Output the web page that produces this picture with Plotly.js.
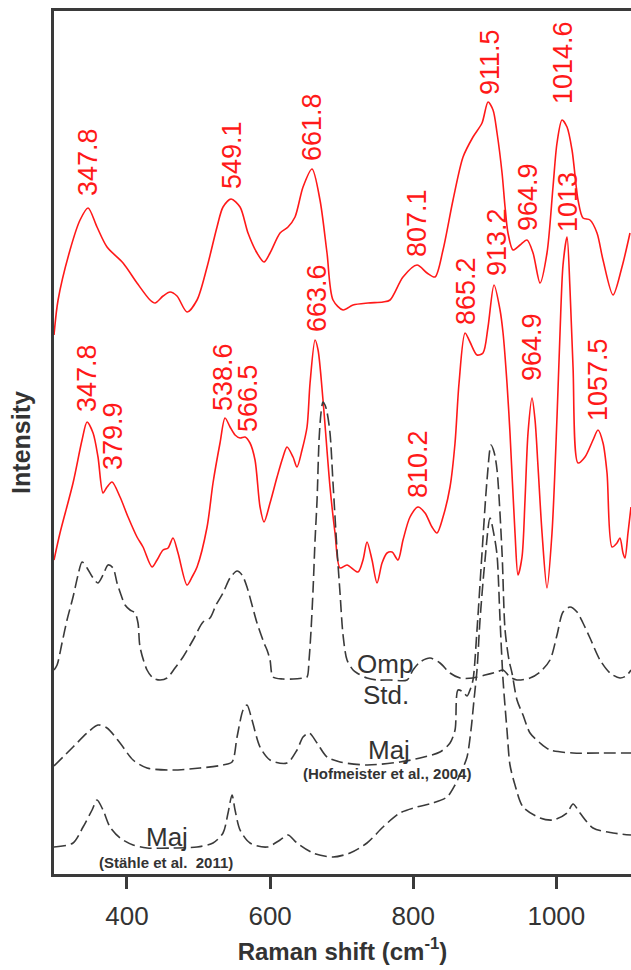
<!DOCTYPE html>
<html>
<head>
<meta charset="utf-8">
<script src="https://cdn.plot.ly/plotly-3.0.1.min.js"></script>
<style>
  html, body { margin: 0; padding: 0; background: #ffffff; }
  #chart { width: 631px; height: 970px; }
</style>
</head>
<body>
<div id="chart"></div>
<script>
// ---- Data (Raman shift in cm-1, intensity in arbitrary units) ----
const shiftSampleTop = [298, 303.7, 320.4, 334.4, 345.6, 358.1, 372.1, 394.5, 414.0, 432.2, 439.2, 450.4, 460.2, 469.9, 483.9, 497.9, 511.9, 525.8, 534.2, 545.4, 558.0, 569.1, 581.7, 591.5, 599.9, 613.9, 625.0, 634.8, 646.0, 658.6, 669.7, 679.5, 687.9, 701.9, 715.9, 736.8, 757.8, 767.6, 785.7, 805.3, 819.3, 830.4, 841.6, 855.6, 869.6, 883.5, 896.1, 904.5, 911.5, 917.1, 924.1, 928.3, 932.4, 939.4, 949.2, 959.0, 967.4, 977.2, 986.9, 995.3, 1000.9, 1007.9, 1014.9, 1021.9, 1030.3, 1037.2, 1047.0, 1056.8, 1065.2, 1079.2, 1091.7, 1102.9];
const intensitySampleTop = [53.9, 57.4, 62.4, 65.4, 66.6, 64.7, 62.7, 61.1, 59.1, 57.4, 57.1, 57.8, 58.2, 57.8, 56.2, 57.4, 60.7, 64.7, 66.7, 67.5, 66.7, 64.1, 62.1, 61.2, 62.1, 64.1, 64.7, 65.7, 68.7, 70.5, 67.4, 62.1, 57.4, 56.4, 56.9, 57.1, 57.2, 57.4, 59.7, 60.9, 60.1, 59.7, 62.4, 67.4, 71.7, 73.7, 75.1, 77.2, 76.4, 74.1, 70.1, 66.7, 64.1, 62.4, 62.9, 63.4, 62.1, 59.1, 62.1, 68.7, 73.1, 75.4, 74.7, 72.4, 67.4, 65.6, 65.4, 64.1, 61.4, 57.9, 60.7, 64.1];

const shiftSampleMid = [298, 306.4, 324.6, 337.2, 344.2, 352.6, 359.5, 366.5, 372.1, 379.1, 390.3, 401.5, 414.0, 422.4, 435.0, 442.0, 450.4, 457.4, 464.3, 471.3, 483.9, 490.9, 497.9, 511.9, 520.2, 530.0, 537.0, 544.0, 551.0, 558.0, 564.9, 571.9, 578.9, 585.9, 591.5, 599.9, 609.7, 618.0, 623.6, 632.0, 637.6, 644.6, 651.6, 655.8, 662.8, 667.0, 673.9, 683.7, 690.7, 697.7, 707.5, 722.8, 729.8, 735.4, 742.4, 749.4, 756.4, 763.4, 770.4, 778.7, 785.7, 795.5, 806.7, 816.5, 826.2, 833.2, 841.6, 851.4, 858.4, 864.0, 872.4, 879.3, 889.1, 897.5, 904.5, 912.9, 921.3, 925.5, 931.0, 935.2, 942.2, 946.4, 952.0, 956.2, 960.4, 966.0, 970.2, 974.4, 980.0, 986.9, 993.9, 1000.9, 1005.1, 1009.3, 1014.9, 1019.1, 1023.3, 1030.3, 1040.0, 1051.2, 1058.2, 1065.2, 1070.8, 1077.8, 1084.7, 1088.9, 1093.1, 1095.9, 1100.1, 1104.3];
const intensitySampleMid = [31.4, 34.1, 39.1, 43.4, 45.2, 44.1, 41.7, 38.1, 38.7, 39.2, 37.7, 35.7, 33.7, 32.7, 30.7, 31.4, 32.4, 32.6, 33.6, 32.1, 28.9, 29.7, 30.7, 34.7, 39.1, 43.1, 45.6, 44.7, 43.9, 43.6, 43.7, 43.1, 41.4, 36.7, 35.2, 37.1, 39.7, 41.7, 42.7, 41.7, 40.7, 42.4, 44.7, 49.1, 53.4, 52.4, 47.4, 38.7, 34.1, 30.6, 30.9, 30.2, 31.4, 33.2, 31.4, 29.1, 31.1, 32.1, 32.2, 31.4, 33.4, 35.7, 36.7, 36.1, 34.7, 34.1, 35.7, 38.7, 43.1, 49.1, 54.1, 53.2, 51.9, 52.1, 54.7, 58.9, 56.4, 54.1, 49.1, 44.1, 34.1, 29.9, 31.7, 37.4, 44.1, 47.6, 45.4, 40.7, 34.1, 28.6, 34.1, 45.7, 54.1, 60.9, 63.7, 58.4, 50.7, 41.1, 41.7, 43.4, 44.4, 43.1, 40.1, 32.7, 33.1, 33.6, 32.1, 31.6, 34.1, 36.7];

const shiftOmpStd = [298, 302.3, 309.2, 316.2, 324.6, 331.6, 337.2, 344.2, 352.6, 359.5, 366.5, 373.5, 380.5, 386.1, 391.7, 397.3, 404.3, 411.2, 415.4, 418.2, 428.0, 436.4, 446.2, 456.0, 467.1, 478.3, 492.3, 506.3, 516.0, 524.4, 534.2, 544.0, 553.8, 560.8, 567.7, 574.7, 581.7, 591.5, 595.7, 599.9, 604.1, 618.0, 632.0, 646.0, 651.6, 654.4, 657.2, 660.0, 662.8, 665.6, 668.4, 671.1, 673.9, 676.7, 679.5, 683.7, 687.9, 693.5, 697.7, 701.9, 707.5, 715.9, 721.4, 735.4, 749.4, 767.6, 791.3, 799.7, 809.5, 823.5, 837.4, 851.4, 865.4, 883.5, 900.3, 917.1, 925.5, 935.2, 945.0, 963.2, 977.2, 991.1, 1000.9, 1009.3, 1019.1, 1028.9, 1037.2, 1047.0, 1061.0, 1075.0, 1088.9, 1097.3, 1104.3];
const intensityOmpStd = [20.4, 20.9, 23.1, 25.4, 27.7, 29.9, 31.2, 30.6, 29.6, 29.1, 29.9, 30.9, 30.6, 29.1, 27.9, 26.9, 26.4, 26.1, 25.1, 22.7, 20.4, 19.6, 19.4, 19.6, 20.6, 21.7, 23.4, 25.2, 25.6, 26.9, 28.1, 29.6, 30.3, 29.9, 28.7, 26.9, 25.1, 23.1, 22.4, 21.4, 19.7, 19.5, 19.5, 19.6, 19.7, 21.4, 24.4, 28.4, 33.4, 37.4, 43.4, 46.1, 47.2, 46.9, 46.2, 44.1, 39.1, 32.4, 28.1, 23.9, 21.4, 20.4, 20.1, 19.6, 19.4, 19.4, 19.4, 20.4, 21.2, 21.6, 21.1, 20.1, 19.6, 19.6, 19.9, 20.2, 20.4, 19.7, 19.4, 19.6, 20.2, 21.4, 23.9, 26.2, 26.7, 26.2, 25.1, 23.6, 21.4, 20.1, 19.6, 19.8, 20.4];

const shiftMajHofmeister = [298, 324.6, 344.2, 359.5, 372.1, 390.3, 408.5, 428.0, 464.3, 502.1, 534.2, 546.8, 553.8, 562.2, 567.7, 574.7, 585.9, 599.9, 623.6, 637.6, 646.0, 654.4, 665.6, 679.5, 697.7, 735.4, 781.5, 809.5, 837.4, 851.4, 858.4, 862.6, 869.6, 875.2, 879.3, 883.5, 889.1, 896.1, 903.1, 908.7, 912.9, 917.1, 924.1, 928.3, 933.8, 938.0, 945.0, 953.4, 963.2, 977.2, 991.1, 1023.3, 1061.0, 1104.3];
const intensityMajHofmeister = [10.8, 12.7, 14.1, 14.9, 14.6, 13.1, 11.4, 10.6, 10.4, 10.6, 10.9, 11.2, 13.7, 16.4, 16.9, 15.4, 12.7, 11.4, 11.1, 12.4, 13.7, 14.1, 13.1, 11.7, 11.2, 10.9, 11.2, 11.6, 12.2, 13.1, 14.4, 18.4, 18.2, 17.8, 18.4, 19.4, 24.4, 32.1, 39.4, 42.9, 42.2, 40.4, 32.1, 24.4, 21.4, 20.1, 17.4, 15.9, 14.1, 13.1, 12.4, 12.1, 12.1, 12.1];

const shiftMajStahle = [298, 324.6, 338.6, 351.2, 358.1, 366.5, 376.3, 390.3, 408.5, 428.0, 464.3, 497.9, 520.2, 534.2, 541.2, 546.8, 551.0, 558.0, 571.9, 595.7, 613.9, 625.0, 637.6, 660.0, 687.9, 711.7, 735.4, 757.8, 781.5, 805.3, 827.6, 847.2, 858.4, 868.2, 875.2, 880.7, 884.9, 889.1, 893.3, 900.3, 907.3, 912.9, 917.1, 921.3, 925.5, 931.0, 935.2, 942.2, 953.4, 977.2, 995.3, 1014.9, 1023.3, 1033.0, 1051.2, 1079.2, 1104.3];
const intensityMajStahle = [2.7, 3.1, 4.7, 6.4, 7.4, 6.4, 4.7, 3.6, 2.9, 2.6, 2.6, 2.7, 3.1, 4.1, 6.1, 7.9, 6.4, 4.4, 3.1, 2.7, 3.4, 3.9, 3.1, 2.1, 1.7, 2.1, 3.1, 4.7, 6.1, 6.7, 7.1, 7.7, 8.9, 10.4, 11.7, 14.4, 17.4, 20.4, 25.4, 31.4, 35.6, 33.9, 31.9, 25.4, 19.4, 14.4, 10.9, 8.9, 6.7, 5.6, 5.4, 6.1, 7.0, 6.1, 4.6, 4.1, 3.9];

// Peak labels (text, and the shift / intensity where each label sits)
const peakLabelText = ["347.8", "549.1", "661.8", "807.1", "911.5", "964.9", "1014.6", "1013",
                       "347.8", "379.9", "538.6", "566.5", "663.6", "810.2", "865.2", "913.2", "964.9", "1057.5"];
const peakLabelShift = [345.6, 546.8, 658.6, 805.3, 907.3, 960.4, 1009.3, 1016.3,
                        344.2, 380.5, 534.2, 569.1, 665.6, 806.7, 873.8, 917.1, 966.0, 1058.2];
const peakLabelIntensity = [71.2, 71.9, 74.7, 65.1, 81.2, 67.7, 81.1, 67.2,
                            49.6, 43.8, 49.7, 47.6, 57.6, 41.0, 58.3, 63.2, 52.7, 49.4];

// Reference-spectrum captions
const refLabelText = ["Omp", "Std.", "Maj", "<b>(Hofmeister et al., 2004)</b>", "Maj", "<b>(Stähle et al.\u00a0 2011)</b>"];
const refLabelShift = [760.6, 761.9, 766.2, 763.4, 456.0, 454.6];
const refLabelIntensity = [21.0, 17.9, 12.4, 10.1, 3.7, 1.2];
const refLabelSize = [26, 26, 26, 15, 26, 15];

const xTickVals = [400, 600, 800, 1000];

// ---- Build the figure ----
const FONT = "'Liberation Sans', Arial, Helvetica, sans-serif";
const RED = "rgb(255,25,25)";
const GREY = "#3a3a3a";

const redLine = { color: RED, width: 1.6, shape: "spline", smoothing: 0.8 };
const dashLine = { color: GREY, width: 1.6, dash: "12px,5px", shape: "spline", smoothing: 0.8 };

const traces = [
  { x: shiftSampleTop, y: intensitySampleTop, mode: "lines", line: redLine, name: "sample (upper)" },
  { x: shiftSampleMid, y: intensitySampleMid, mode: "lines", line: redLine, name: "sample (lower)" },
  { x: shiftOmpStd, y: intensityOmpStd, mode: "lines", line: dashLine, name: "Omp Std." },
  { x: shiftMajHofmeister, y: intensityMajHofmeister, mode: "lines", line: dashLine, name: "Maj (Hofmeister et al., 2004)" },
  { x: shiftMajStahle, y: intensityMajStahle, mode: "lines", line: dashLine, name: "Maj (Stähle et al. 2011)" }
];

const annotations = [];
peakLabelText.forEach((t, i) => {
  annotations.push({
    x: peakLabelShift[i], y: peakLabelIntensity[i], xref: "x", yref: "y",
    text: t, showarrow: false, textangle: -90,
    xanchor: "center", yanchor: "middle",
    font: { family: FONT, size: 27, color: RED }
  });
});
refLabelText.forEach((t, i) => {
  annotations.push({
    x: refLabelShift[i], y: refLabelIntensity[i], xref: "x", yref: "y",
    text: t, showarrow: false,
    xanchor: "center", yanchor: "middle",
    font: { family: FONT, size: refLabelSize[i], color: "#333333" }
  });
});

const layout = {
  width: 631, height: 970,
  margin: { l: 54, r: 0, t: 11, b: 96, pad: 0 },
  paper_bgcolor: "#ffffff", plot_bgcolor: "#ffffff",
  showlegend: false,
  font: { family: FONT, color: "#333333" },
  xaxis: {
    range: [298, 1104.3],
    showgrid: false, zeroline: false,
    showline: true, linecolor: "#3a3a3a", linewidth: 3, mirror: true,
    ticks: "outside", ticklen: 12, tickwidth: 3, tickcolor: "#3a3a3a",
    tickvals: xTickVals, ticktext: xTickVals.map(String),
    tickfont: { family: FONT, size: 26, color: "#333333" },
    ticklabelstandoff: 5,
    title: { text: "Raman shift (cm<sup>-1</sup>)", standoff: 13,
             font: { family: FONT, size: 24, color: "#333333", weight: "bold" } },
    automargin: false
  },
  yaxis: {
    range: [0, 86.3],
    showgrid: false, zeroline: false,
    showline: true, linecolor: "#3a3a3a", linewidth: 3, mirror: false,
    ticks: "", showticklabels: false,
    title: { text: "Intensity", standoff: 14,
             font: { family: FONT, size: 25, color: "#333333", weight: "bold" } },
    automargin: false
  },
  annotations: annotations
};

Plotly.newPlot("chart", traces, layout, { staticPlot: true, displayModeBar: false });
</script>
</body>
</html>
